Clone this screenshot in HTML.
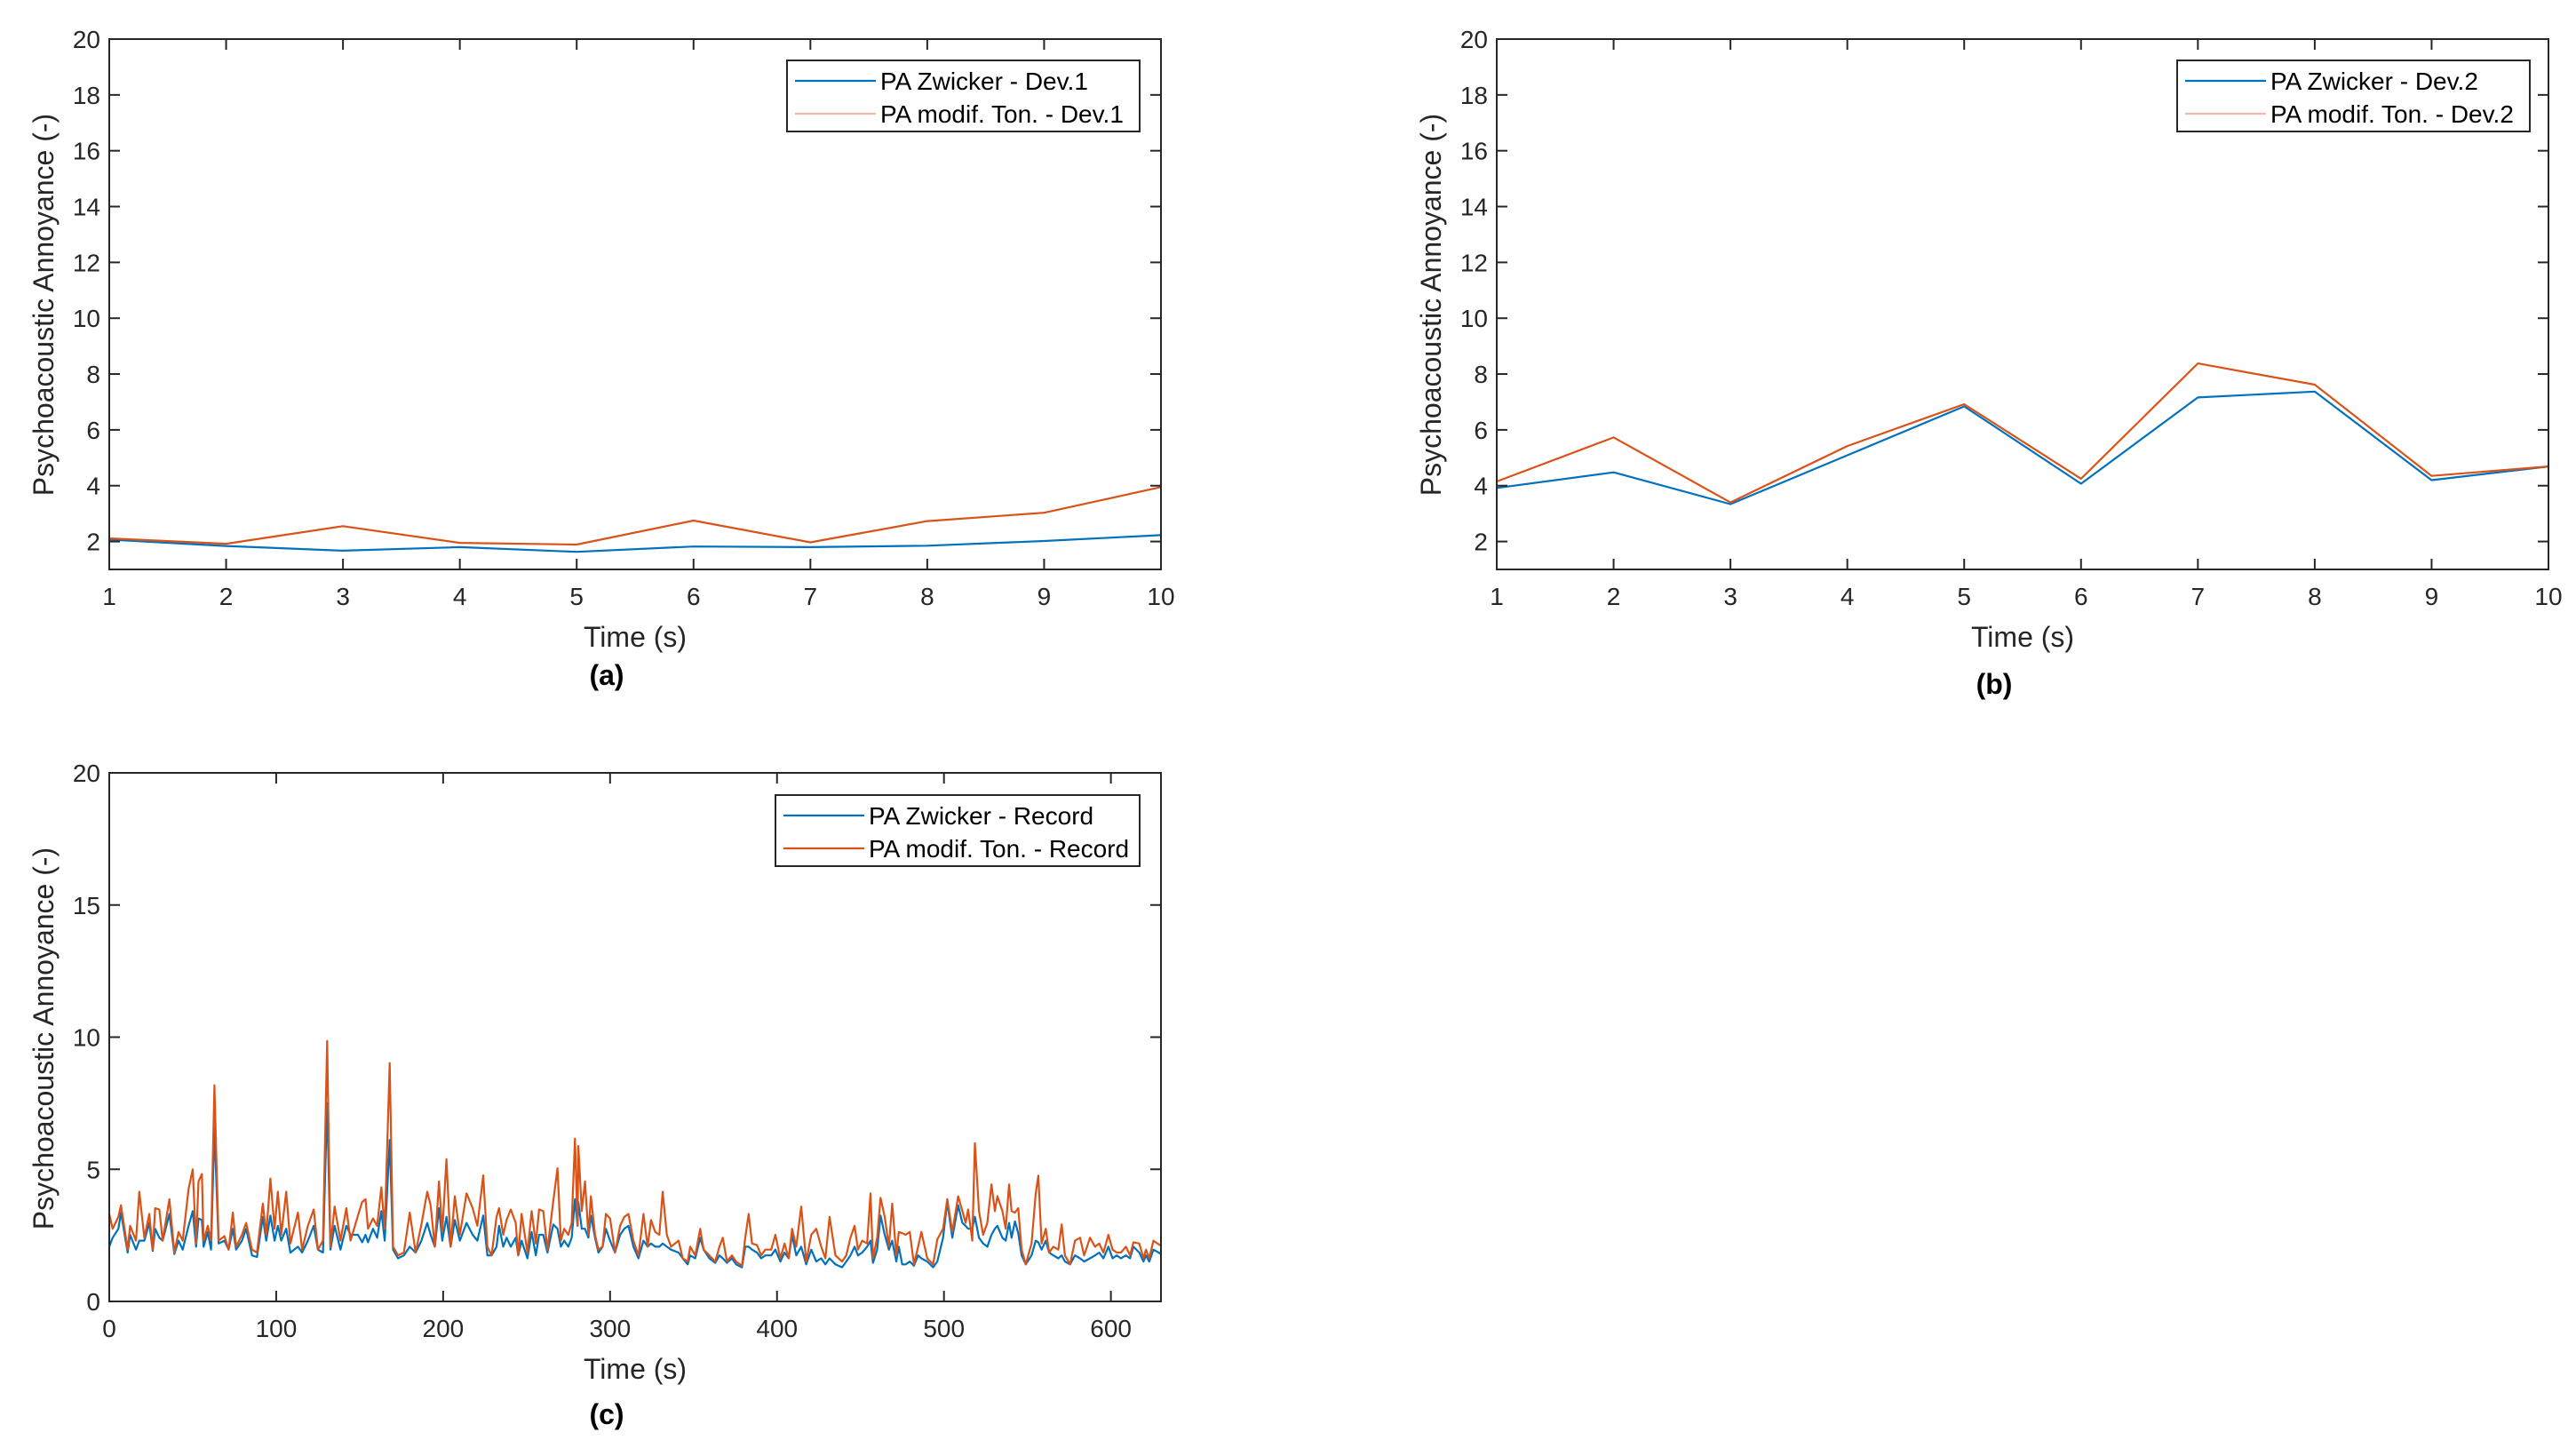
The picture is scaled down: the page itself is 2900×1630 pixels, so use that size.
<!DOCTYPE html>
<html><head><meta charset="utf-8">
<style>
html,body{margin:0;padding:0;background:#fff;}
svg{display:block;font-family:"Liberation Sans",Arial,sans-serif;}
</style></head>
<body>
<svg id="fig" width="2900" height="1630" viewBox="0 0 2900 1630" xmlns="http://www.w3.org/2000/svg"></svg>
<script>
// ---- Panel (a) data ----
const timeA = [1,2,3,4,5,6,7,8,9,10];
const zwickerDev1 = [2.07,1.84,1.67,1.80,1.63,1.82,1.80,1.85,2.02,2.23];
const tonDev1 = [2.11,1.92,2.55,1.95,1.89,2.75,1.97,2.73,3.03,3.95];
// ---- Panel (b) data ----
const timeB = [1,2,3,4,5,6,7,8,9,10];
const zwickerDev2 = [3.92,4.48,3.34,5.09,6.84,4.07,7.16,7.37,4.20,4.69];
const tonDev2 = [4.15,5.73,3.40,5.42,6.92,4.25,8.38,7.62,4.35,4.69];
// ---- Panel (c) data ----
const timeC = [0,2,5.5,7,11,12.5,16,18,21,24,26,27.5,30,32,36,39,41.5,44,47.5,50,52,53.5,55.5,56.5,59,61,63,65.5,69,71.5,74,76,79.5,82,85.5,88.5,92,94,96.5,99,101,103,106,108.5,113,115.5,119,122.5,125,128,130.5,132.5,135,138.5,142,144.5,149,151.5,153.5,155,158,160.5,163,165,168,170,173,176.5,180,183.5,187,190.5,192.5,195,197.5,199.5,202,204.5,207,210,214,217.7,220.5,224,226.5,229,232,233.5,236,238,240.5,243.5,245,247,250.5,253,255.5,257.5,260,262.5,266,268.5,270.5,272.5,275,277,279,280.5,281,283,285,287,288.5,291,293,295.5,297.5,300,303,306,308.5,311,314,317,320,322.5,324.5,327,329.5,331.5,334,336.5,341,343.5,346.5,348,351,354,356,359.5,363,365.5,367.5,370,373,375.5,379,381,383,385,388,390.5,393,396.5,399,402,404.5,407,409,411.5,414.5,417.5,420.5,423.5,426.5,429,431.5,435,439,441.5,444,446.5,448.5,451,454,456,457.5,460,462,464.5,467,469,471.5,473,475,477,479.5,482,484.5,486.5,490,493.5,496,499.5,502,505,508.5,511,513,514.5,517,518.5,521,523.5,526,528.5,530.5,532,535,537,539,540.5,542.5,544.5,546.5,549,552.5,555,556.5,558.5,561,563,565.5,568.5,570.5,572.5,575.5,578.5,581.5,584,587.5,590.5,593,595.5,598.5,601,603.5,606,609,611.5,613.5,617,619.5,621,623,625.5,630];
const tonRecord = [3.31,2.75,3.20,3.64,1.96,2.86,2.30,4.15,2.41,3.31,1.96,3.53,3.48,2.30,3.87,1.85,2.63,2.30,4.26,5.0,2.19,4.54,4.82,2.30,2.86,2.30,8.18,2.30,2.47,1.96,3.36,2.07,2.52,2.97,1.96,1.85,3.70,2.52,4.65,2.75,4.15,2.52,4.15,2.19,3.36,1.96,2.86,3.48,1.96,2.30,9.86,2.07,3.59,2.30,3.53,2.30,3.25,3.76,3.87,2.75,3.14,2.86,4.32,2.75,9.02,2.07,1.74,1.85,3.36,1.85,2.91,4.15,3.64,2.07,4.54,2.63,5.38,2.07,3.98,2.52,4.09,3.53,2.86,4.77,2.07,1.74,3.20,3.53,2.52,3.08,3.48,2.97,1.74,3.31,1.85,3.42,2.19,3.48,3.42,1.96,3.81,5.04,2.30,2.75,2.52,2.97,6.16,2.86,5.88,3.42,4.54,2.52,3.98,2.52,1.96,2.07,3.31,3.14,1.85,2.86,3.20,3.31,2.30,1.74,3.31,2.07,3.08,2.63,2.52,4.15,2.52,2.07,2.30,1.63,1.51,2.07,1.74,2.75,1.96,1.74,1.51,2.07,2.41,1.51,1.74,1.51,1.35,2.41,3.31,2.19,2.13,1.74,1.96,1.96,2.52,1.63,2.19,1.63,2.75,2.07,3.59,1.51,2.52,2.75,2.07,1.63,3.20,1.74,1.51,1.74,2.41,2.86,1.96,2.30,2.19,4.09,1.63,2.41,3.92,3.20,2.07,3.70,1.74,2.63,2.58,2.52,2.63,1.40,2.07,2.63,1.63,1.40,2.35,2.75,3.87,2.63,3.98,3.42,2.97,3.48,2.30,5.99,3.42,2.52,2.97,4.43,3.42,3.98,3.42,2.75,4.43,3.42,3.36,3.53,1.96,1.40,2.19,4.09,4.76,2.19,2.75,1.85,2.07,1.96,2.91,1.74,1.40,2.30,2.41,1.74,2.41,2.07,2.19,1.85,2.52,1.96,1.85,1.85,2.07,1.74,2.24,2.19,1.63,1.96,1.63,2.30,2.10];
const zwickerRecord = [2.07,2.41,2.75,3.36,1.85,2.52,1.96,2.30,2.30,2.97,1.91,2.75,2.41,2.30,3.31,1.79,2.30,1.96,2.86,3.42,2.07,3.14,3.08,2.07,2.63,1.96,6.56,2.19,2.30,1.96,2.75,1.96,2.30,2.75,1.74,1.68,3.20,2.30,3.25,2.30,2.86,2.30,2.75,1.85,2.07,1.85,2.30,2.86,1.96,1.85,7.50,1.96,2.86,1.96,2.86,2.52,2.52,2.24,2.52,2.24,2.75,2.41,3.42,2.30,6.11,1.96,1.63,1.74,2.07,1.85,2.30,2.97,2.52,2.07,3.53,2.30,3.20,2.07,3.08,2.30,2.97,2.52,2.30,3.25,1.74,1.74,2.07,2.86,2.07,2.41,2.07,2.41,1.74,2.30,1.63,2.63,1.74,2.52,2.52,1.85,2.91,2.75,2.07,2.30,2.07,2.41,3.87,2.86,3.76,2.75,2.75,2.41,3.25,2.41,1.85,2.07,2.75,2.30,1.85,2.52,2.75,2.86,2.07,1.63,2.30,2.07,2.19,2.07,2.07,2.19,2.07,1.96,1.85,1.63,1.40,1.74,1.63,2.41,1.96,1.63,1.46,1.74,1.63,1.46,1.63,1.40,1.29,2.07,2.07,1.96,1.85,1.63,1.74,1.74,1.96,1.51,1.85,1.63,2.52,1.74,2.07,1.40,1.96,1.51,1.63,1.40,1.63,1.40,1.29,1.51,1.74,2.07,1.74,1.85,2.07,2.30,1.46,1.96,3.25,2.52,1.96,2.30,1.51,2.07,1.40,1.40,1.51,1.35,1.74,1.63,1.51,1.29,1.51,2.41,3.76,2.41,3.64,2.97,2.86,2.75,2.75,3.20,2.41,2.19,2.07,2.52,2.75,2.86,2.41,2.30,2.97,2.41,3.03,2.58,1.74,1.40,1.74,2.30,2.24,1.96,2.30,1.85,1.74,1.63,1.74,1.51,1.40,1.74,1.63,1.51,1.63,1.74,1.85,1.63,2.07,1.63,1.74,1.63,1.74,1.63,2.07,1.85,1.51,1.74,1.51,1.96,1.80];
const ticksA = [2,4,6,8,10,12,14,16,18,20];
const ticksC = [0,5,10,15,20];
const xticksAB = [1,2,3,4,5,6,7,8,9,10];
const xticksC = [0,100,200,300,400,500,600];

const NS = "http://www.w3.org/2000/svg";
const fig = document.getElementById('fig');
const BLUE = "#0072BD", ORANGE = "#D95319", AX = "#262626";
function mk(tag, attrs, parent){
  const e = document.createElementNS(NS, tag);
  for (const k in attrs) e.setAttribute(k, attrs[k]);
  (parent||fig).appendChild(e);
  return e;
}
function panel(cfg){
  const g = mk('g', {});
  
  
  const L=cfg.left, R=cfg.right, T=cfg.top, B=cfg.bottom;
  const sx = v => L + (v - cfg.xmin)/(cfg.xmax - cfg.xmin)*(R-L);
  const sy = v => B - (v - cfg.ymin)/(cfg.ymax - cfg.ymin)*(B-T);
  cfg.series.forEach(s => {
    const pts = s.y.map((v,i)=> sx(s.x[i]).toFixed(1)+','+sy(v).toFixed(1)).join(' ');
    const pl = mk('polyline', {points:pts, fill:'none', stroke:s.color, 'stroke-width':2.2, 'stroke-linejoin':'round'}, g);
    
    
  });
  const box = mk('rect', {x:L, y:T, width:R-L, height:B-T, fill:'none', stroke:AX, 'stroke-width':2}, g);
  
  
  cfg.yticks.forEach(v => {
    const y = sy(v);
    mk('line', {x1:L, x2:L+12, y1:y, y2:y, stroke:AX, 'stroke-width':2}, g);
    mk('line', {x1:R, x2:R-12, y1:y, y2:y, stroke:AX, 'stroke-width':2}, g);
    const t = mk('text', {x:L-10, y:y+10, 'text-anchor':'end', 'font-size':28, fill:AX}, g);
    t.textContent = v;
    
    
  });
  cfg.xticks.forEach(v => {
    const x = sx(v);
    mk('line', {x1:x, x2:x, y1:B, y2:B-12, stroke:AX, 'stroke-width':2}, g);
    mk('line', {x1:x, x2:x, y1:T, y2:T+12, stroke:AX, 'stroke-width':2}, g);
    const t = mk('text', {x:x, y:B+40, 'text-anchor':'middle', 'font-size':28, fill:AX}, g);
    t.textContent = v;
    
    
  });
  const xl = mk('text', {x:(L+R)/2, y:B+87, 'text-anchor':'middle', 'font-size':32, fill:AX}, g);
  xl.textContent = 'Time (s)';
  
  
  const cy = cfg.ylabelY;
  const yl = mk('text', {x:0, y:0, 'text-anchor':'middle', 'font-size':32, fill:AX, transform:'translate('+(L-63)+','+cy+') rotate(-90)'}, g);
  yl.textContent = 'Psychoacoustic Annoyance (-)';
  
  
  const cap = mk('text', {x:(L+R)/2 - 32, y:cfg.capY, 'text-anchor':'middle', 'font-size':32, 'font-weight':'bold', fill:'#000'}, g);
  cap.textContent = cfg.caption;
  
  
  const lg = mk('g', {}, g);
  
  
  const lx = cfg.legX, ly = cfg.legY;
  mk('rect', {x:lx, y:ly, width:cfg.legW, height:80, fill:'#fff', stroke:AX, 'stroke-width':2}, lg);
  cfg.series.forEach((s,i) => {
    const yy = ly + 23 + i*37;
    mk('line', {x1:lx+9, x2:lx+100, y1:yy, y2:yy, stroke:s.legColor, 'stroke-width':2.2}, lg);
    const t = mk('text', {x:lx+105, y:yy+10, 'font-size':28, fill:'#000'}, lg);
    t.textContent = s.label;
    
    
  });
}
panel({name:'chart-a', left:123, right:1307, top:44, bottom:641, xmin:1, xmax:10, ymin:1, ymax:20,
  yticks:ticksA, xticks:xticksAB, caption:'(a)', capY:771, ylabelY:343,
  legX:886, legY:68, legW:397,
  series:[{name:'line-zwicker-dev1', x:timeA, y:zwickerDev1, color:BLUE, legColor:BLUE, label:'PA Zwicker - Dev.1'},
          {name:'line-ton-dev1', x:timeA, y:tonDev1, color:ORANGE, legColor:'#F4BBA3', label:'PA modif. Ton. - Dev.1'}]});
panel({name:'chart-b', left:1685, right:2869, top:44, bottom:641, xmin:1, xmax:10, ymin:1, ymax:20,
  yticks:ticksA, xticks:xticksAB, caption:'(b)', capY:781, ylabelY:343,
  legX:2451, legY:68, legW:397,
  series:[{name:'line-zwicker-dev2', x:timeB, y:zwickerDev2, color:BLUE, legColor:BLUE, label:'PA Zwicker - Dev.2'},
          {name:'line-ton-dev2', x:timeB, y:tonDev2, color:ORANGE, legColor:'#F4BBA3', label:'PA modif. Ton. - Dev.2'}]});
panel({name:'chart-c', left:123, right:1307, top:870, bottom:1465, xmin:0, xmax:630, ymin:0, ymax:20,
  yticks:ticksC, xticks:xticksC, caption:'(c)', capY:1603, ylabelY:1169,
  legX:873, legY:895, legW:410,
  series:[{name:'line-zwicker-record', x:timeC, y:zwickerRecord, color:BLUE, legColor:BLUE, label:'PA Zwicker - Record'},
          {name:'line-ton-record', x:timeC, y:tonRecord, color:ORANGE, legColor:ORANGE, label:'PA modif. Ton. - Record'}]});
</script>
</body></html>
